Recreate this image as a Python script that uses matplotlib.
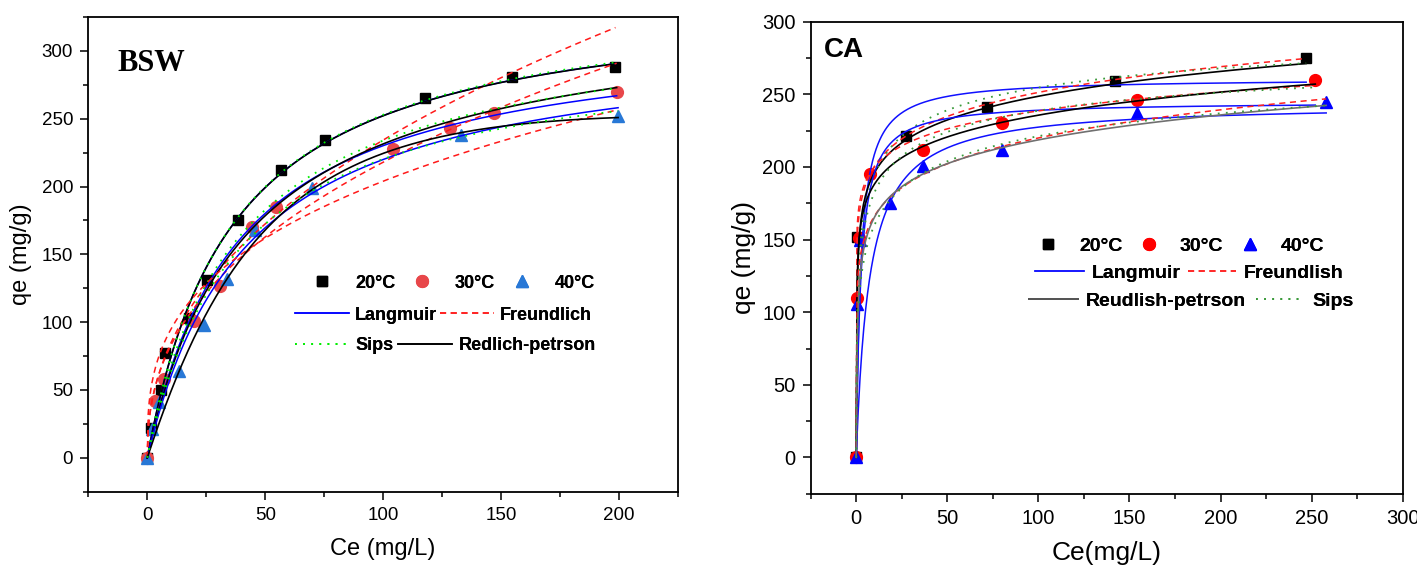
import numpy as np
import matplotlib
matplotlib.use("Agg")
import matplotlib.pyplot as plt
from matplotlib.lines import Line2D
from matplotlib.ticker import MultipleLocator

plt.rcParams['font.family'] = ['Liberation Sans', 'DejaVu Sans']

# ---- BSW data (Ce mg/L, qe mg/g) ----
temps = ['20°C', '30°C', '40°C']
bsw_ce_20 = [0, 1.5, 5.7, 7.6, 17.9, 25.5, 38.4, 56.5, 75.5, 117.7, 154.8, 198.5]
bsw_qe_20 = [0, 22, 50, 77, 103, 131, 175, 212, 234, 265, 281, 288]
bsw_ce_30 = [0, 3.2, 7.0, 19.8, 30.8, 44.5, 54.4, 104, 128.3, 147.1, 199]
bsw_qe_30 = [0, 42, 58, 101, 127, 170, 185, 228, 243, 254, 270]
bsw_ce_40 = [0, 1.9, 5.1, 13.3, 24, 34, 45.6, 69.8, 133, 199.6]
bsw_qe_40 = [0, 21, 41, 64, 98, 132, 168, 199, 238, 252]

# BSW isotherm fit parameters (20, 30, 40 °C)
bsw_lang_qm = [343.6, 318.3, 312.6]
bsw_lang_k = [0.02763, 0.0261, 0.02373]
bsw_freu_kf = [30.6, 31.5, 44.0]
bsw_freu_n = [0.442, 0.42, 0.333]
bsw_sips_qm = [345, 330, 305]
bsw_sips_k = [0.0275, 0.025, 0.026]
bsw_sips_n = [1.0, 0.97, 1.0]
bsw_rp_k = [9.49, 8.08, 5.25]
bsw_rp_a = [0.02763, 0.02732, 0.004235]
bsw_rp_g = [1.0, 0.98, 1.25]

# ---- CA data ----
ca_ce_20 = [0, 0.5, 27.5, 71.6, 142, 247]
ca_qe_20 = [0, 152, 221, 241, 259, 275]
ca_ce_30 = [0, 0.3, 1.4, 7.3, 36.5, 80, 154, 252]
ca_qe_30 = [0, 110, 151, 195, 212, 230, 246, 260]
ca_ce_40 = [0, 0.3, 1.8, 18.3, 36.5, 80, 154, 258]
ca_qe_40 = [0, 106, 150, 175, 201, 212, 237, 245]

ca_lang_qm = [261, 245, 243.8]
ca_lang_k = [0.4, 0.4, 0.139]
ca_freu_kf = [159.9, 167.6, 125.6]
ca_freu_n = [0.0982, 0.0767, 0.1217]
ca_sips_qm = [320, 300, 320]
ca_sips_k = [0.3, 0.3, 0.1]
ca_sips_n = [0.4, 0.4, 0.35]
ca_rp_k = [809, 1538, 405.7]
ca_rp_a = [5, 10, 3]
ca_rp_g = [0.906, 0.907, 0.8945]


def langmuir(c, qm, k):
    return qm * k * c / (1 + k * c)


def freundlich(c, kf, n):
    return kf * c ** n


def sips(c, qm, k, n):
    x = (k * c) ** n
    return qm * x / (1 + x)


def redlich(c, k, a, g):
    return k * c / (1 + a * c ** g)


W, H = 1417, 569
fig = plt.figure(figsize=(W / 100, H / 100), dpi=100)


def fx(px):
    return px / W


def fy(py):
    return 1 - py / H


def style_axes(ax, tick_size):
    for s in ax.spines.values():
        s.set_linewidth(1.3)
    ax.tick_params(which='both', direction='out', top=False, right=False,
                   width=1.1, labelsize=tick_size)
    ax.tick_params(which='major', length=6, pad=5)
    ax.tick_params(which='minor', length=3.5)
    ax.xaxis.set_major_locator(MultipleLocator(50))
    ax.xaxis.set_minor_locator(MultipleLocator(25))
    ax.yaxis.set_major_locator(MultipleLocator(50))
    ax.yaxis.set_minor_locator(MultipleLocator(25))


def draw_panel(ax, ces, pars, colors, rp_colors):
    lang_qm, lang_k, freu_kf, freu_n, sips_qm, sips_k, sips_n, rp_k, rp_a, rp_g = pars
    for i in range(3):
        c = np.linspace(0, max(ces[i]), 500)
        ax.plot(c, langmuir(c, lang_qm[i], lang_k[i]), color=colors['lang'], lw=1.1, zorder=3)
        ax.plot(c, freundlich(c, freu_kf[i], freu_n[i]), color=colors['freu'], lw=1.1,
                dashes=(4, 3), zorder=3)
        ax.plot(c, redlich(c, rp_k[i], rp_a[i], rp_g[i]), color=rp_colors[i], lw=1.2, zorder=3)
        ax.plot(c, sips(c, sips_qm[i], sips_k[i], sips_n[i]), color=colors['sips'], lw=1.3,
                dashes=(1, 3.5), zorder=3)


# ---------------- BSW panel ----------------
ax1 = fig.add_axes([fx(88.3), fy(491.7), fx(678 - 88.3), (491.7 - 17) / H])
bsw_colors = {'lang': '#0000ff', 'freu': '#ff1a1a', 'sips': '#00ee00'}
draw_panel(ax1, [bsw_ce_20, bsw_ce_30, bsw_ce_40],
           (bsw_lang_qm, bsw_lang_k, bsw_freu_kf, bsw_freu_n, bsw_sips_qm, bsw_sips_k,
            bsw_sips_n, bsw_rp_k, bsw_rp_a, bsw_rp_g),
           bsw_colors, ['black', 'black', 'black'])
bsw_mk = [('s', 'black', 7.5), ('o', '#e8474a', 8.5), ('^', '#2878d6', 9)]
for (m, col, ms), ce, qe in zip(bsw_mk, [bsw_ce_20, bsw_ce_30, bsw_ce_40],
                                [bsw_qe_20, bsw_qe_30, bsw_qe_40]):
    ax1.plot(ce, qe, linestyle='none', marker=m, color=col, ms=ms, zorder=2)
ax1.set_xlim(-25, 225)
ax1.set_ylim(-25, 325)
style_axes(ax1, 13.5)
ax1.set_xlabel('Ce (mg/L)', fontsize=17)
ax1.set_ylabel('qe (mg/g)', fontsize=17)
ax1.xaxis.set_label_coords(0.5, -0.098)
ax1.yaxis.set_label_coords(-0.095, 0.5)
ax1.text(0.05, 0.886, 'BSW', transform=ax1.transAxes, fontsize=22, fontweight='bold',
         family='Liberation Serif', va='baseline')

# legend rows (BSW)
mk_handles = [Line2D([], [], linestyle='none', marker=m, color=c, ms=ms) for m, c, ms in bsw_mk]
leg = fig.legend(mk_handles, temps, loc='center left', bbox_to_anchor=(fx(313), fy(283)),
                 ncol=3, frameon=False, borderpad=0, borderaxespad=0, handlelength=1.0,
                 handletextpad=1.33, columnspacing=0.98, numpoints=1,
                 prop={'size': 13, 'weight': 'bold'})
fig.add_artist(leg)
row2 = [Line2D([], [], color=bsw_colors['lang'], lw=1.1),
        Line2D([], [], color=bsw_colors['freu'], lw=1.1, dashes=(4, 3))]
leg = fig.legend(row2, ['Langmuir', 'Freundlich'], loc='center left',
                 bbox_to_anchor=(fx(295), fy(315)), ncol=2, frameon=False, borderpad=0,
                 borderaxespad=0, handlelength=3.0, handletextpad=0.33, columnspacing=0.15,
                 prop={'size': 13, 'weight': 'bold'})
fig.add_artist(leg)
row3 = [Line2D([], [], color=bsw_colors['sips'], lw=1.3, dashes=(1, 3.5)),
        Line2D([], [], color='black', lw=1.2)]
leg = fig.legend(row3, ['Sips', 'Redlich-petrson'], loc='center left',
                 bbox_to_anchor=(fx(295), fy(346)), ncol=2, frameon=False, borderpad=0,
                 borderaxespad=0, handlelength=3.0, handletextpad=0.33, columnspacing=0.28,
                 prop={'size': 13, 'weight': 'bold'})
fig.add_artist(leg)

# ---------------- CA panel ----------------
ax2 = fig.add_axes([fx(810.7), fy(493.8), fx(1402.7 - 810.7), (493.8 - 21.7) / H])
ca_colors = {'lang': '#1010ff', 'freu': '#ff2020', 'sips': '#3a9a3a'}
draw_panel(ax2, [ca_ce_20, ca_ce_30, ca_ce_40],
           (ca_lang_qm, ca_lang_k, ca_freu_kf, ca_freu_n, ca_sips_qm, ca_sips_k,
            ca_sips_n, ca_rp_k, ca_rp_a, ca_rp_g),
           ca_colors, ['black', 'black', '#707070'])
ca_mk = [('s', 'black', 7.5), ('o', '#ff0000', 8.5), ('^', '#0000ff', 9)]
for (m, col, ms), ce, qe in zip(ca_mk, [ca_ce_20, ca_ce_30, ca_ce_40],
                                [ca_qe_20, ca_qe_30, ca_qe_40]):
    ax2.plot(ce, qe, linestyle='none', marker=m, color=col, ms=ms, zorder=2)
ax2.set_xlim(-25, 300)
ax2.set_ylim(-25, 300)
style_axes(ax2, 14.5)
ax2.set_xlabel('Ce(mg/L)', fontsize=19)
ax2.set_ylabel('qe (mg/g)', fontsize=19)
ax2.xaxis.set_label_coords(0.5, -0.1)
ax2.yaxis.set_label_coords(-0.093, 0.5)
ax2.text(0.0225, 0.925, 'CA', transform=ax2.transAxes, fontsize=20, fontweight='bold',
         va='baseline')

mk_handles = [Line2D([], [], linestyle='none', marker=m, color=c, ms=ms) for m, c, ms in ca_mk]
leg = fig.legend(mk_handles, temps, loc='center left', bbox_to_anchor=(fx(1038), fy(246)),
                 ncol=3, frameon=False, borderpad=0, borderaxespad=0, handlelength=1.0,
                 handletextpad=1.11, columnspacing=0.85, numpoints=1,
                 prop={'size': 14, 'weight': 'bold'})
fig.add_artist(leg)
row2 = [Line2D([], [], color=ca_colors['lang'], lw=1.1),
        Line2D([], [], color=ca_colors['freu'], lw=1.1, dashes=(4, 3))]
leg = fig.legend(row2, ['Langmuir', 'Freundlish'], loc='center left',
                 bbox_to_anchor=(fx(1035), fy(273)), ncol=2, frameon=False, borderpad=0,
                 borderaxespad=0, handlelength=2.5, handletextpad=0.41, columnspacing=0.36,
                 prop={'size': 14, 'weight': 'bold'})
fig.add_artist(leg)
row3 = [Line2D([], [], color='#555555', lw=1.4),
        Line2D([], [], color=ca_colors['sips'], lw=1.3, dashes=(1, 3.5))]
leg = fig.legend(row3, ['Reudlish-petrson', 'Sips'], loc='center left',
                 bbox_to_anchor=(fx(1029), fy(301)), ncol=2, frameon=False, borderpad=0,
                 borderaxespad=0, handlelength=2.5, handletextpad=0.41, columnspacing=0.5,
                 prop={'size': 14, 'weight': 'bold'})
fig.add_artist(leg)

fig.savefig('out.png', dpi=100)
